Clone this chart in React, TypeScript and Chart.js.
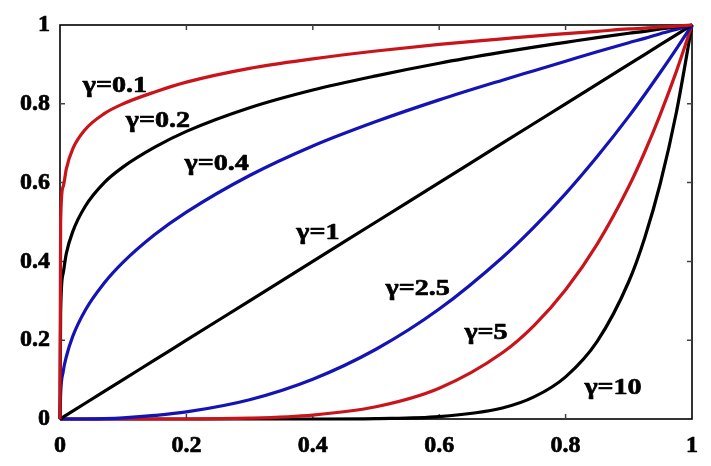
import { useEffect, useRef } from "react";
import { Chart, registerables } from "chart.js";

Chart.register(...registerables);

const xValues = [0, 0.001, 0.005, 0.01, 0.02, 0.04, 0.07, 0.1, 0.15, 0.2, 0.3, 0.4, 0.5, 0.6, 0.7, 0.75, 0.8, 0.85, 0.9, 0.925, 0.95, 0.975, 1];

// Curve values
const gamma01 = [0, 0.5, 0.59, 0.635, 0.685, 0.735, 0.775, 0.8, 0.83, 0.855, 0.89, 0.914, 0.934, 0.951, 0.965, 0.972, 0.978, 0.984, 0.99, 0.992, 0.995, 0.997, 1];
const gamma02 = [0, 0.27, 0.37, 0.42, 0.475, 0.54, 0.6, 0.64, 0.69, 0.73, 0.79, 0.835, 0.871, 0.903, 0.931, 0.944, 0.956, 0.968, 0.979, 0.984, 0.99, 0.995, 1];
const gamma04 = [0, 0.063, 0.12, 0.158, 0.209, 0.276, 0.345, 0.398, 0.468, 0.525, 0.618, 0.693, 0.755, 0.81, 0.86, 0.884, 0.908, 0.932, 0.955, 0.966, 0.978, 0.989, 1];
const gamma1 = [0, 0.001, 0.005, 0.01, 0.02, 0.04, 0.07, 0.1, 0.15, 0.2, 0.3, 0.4, 0.5, 0.6, 0.7, 0.75, 0.8, 0.85, 0.9, 0.925, 0.95, 0.975, 1];
const gamma25 = [0, 0, 0, 0, 0, 0, 0.001, 0.003, 0.009, 0.018, 0.049, 0.101, 0.177, 0.279, 0.41, 0.487, 0.572, 0.666, 0.768, 0.823, 0.88, 0.939, 1];
const gamma5 = [0, 0, 0, 0, 0, 0, 0, 0, 0, 0, 0.002, 0.01, 0.031, 0.078, 0.168, 0.237, 0.328, 0.444, 0.59, 0.677, 0.774, 0.881, 1];
const gamma10 = [0, 0, 0, 0, 0, 0, 0, 0, 0, 0, 0, 0, 0.001, 0.006, 0.028, 0.056, 0.107, 0.197, 0.349, 0.459, 0.599, 0.776, 1];

const tickValues = [0, 0.2, 0.4, 0.6, 0.8, 1];
const tickLabels = ["0", "0.2", "0.4", "0.6", "0.8", "1"];

// Curve labels and their anchor points (in data units)
const curveLabels = ["γ=0.1", "γ=0.2", "γ=0.4", "γ=1", "γ=2.5", "γ=5", "γ=10"];
const curveLabelX = [0.087, 0.155, 0.248, 0.408, 0.566, 0.674, 0.875];
const curveLabelY = [0.845, 0.756, 0.647, 0.472, 0.33, 0.218, 0.079];

const RED = "#c8141a";
const BLUE = "#1414b4";
const BLACK = "#000000";
const FONT = "Liberation Serif";

function toPoints(ys: number[]) {
  return xValues.map((x, i) => ({ x, y: ys[i] }));
}

const framePlugin = {
  id: "frameAndLabels",
  beforeDatasetsDraw(chart: any) {
    const { ctx, chartArea: a, scales } = chart;
    ctx.save();
    ctx.strokeStyle = "#000";
    ctx.lineWidth = 1.6;
    ctx.strokeRect(a.left, a.top, a.right - a.left, a.bottom - a.top);
    ctx.lineWidth = 1.5;
    ctx.strokeStyle = "#444";
    tickValues.forEach((v) => {
      if (v === 0 || v === 1) return;
      const px = scales.x.getPixelForValue(v);
      const py = scales.y.getPixelForValue(v);
      ctx.beginPath();
      ctx.moveTo(px, a.bottom);
      ctx.lineTo(px, a.bottom - 5);
      ctx.moveTo(px, a.top);
      ctx.lineTo(px, a.top + 5);
      ctx.moveTo(a.left, py);
      ctx.lineTo(a.left + 5, py);
      ctx.moveTo(a.right, py);
      ctx.lineTo(a.right - 5, py);
      ctx.stroke();
    });
    ctx.restore();
  },
  afterDatasetsDraw(chart: any) {
    const { ctx, scales } = chart;
    ctx.save();
    ctx.fillStyle = "#000";
    ctx.strokeStyle = "#000";
    ctx.lineWidth = 0.7;
    ctx.lineJoin = "round";
    ctx.font = `bold 24px "${FONT}"`;
    ctx.textAlign = "center";
    ctx.textBaseline = "middle";
    curveLabels.forEach((t, i) => {
      const px = scales.x.getPixelForValue(curveLabelX[i]);
      const py = scales.y.getPixelForValue(curveLabelY[i]);
      ctx.save();
      ctx.translate(px, py);
      ctx.scale(1.17, 1);
      ctx.fillText(t, 0, 0);
      ctx.strokeText(t, 0, 0);
      ctx.restore();
    });
    ctx.restore();
  },
};

export default function App() {
  const ref = useRef<HTMLCanvasElement | null>(null);

  useEffect(() => {
    document.body.style.margin = "0";
    const canvas = ref.current;
    if (!canvas) return;
    let chart: Chart | null = null;
    let cancelled = false;
    const mk = (data: number[], color: string) => ({
      data: toPoints(data),
      borderColor: color,
      backgroundColor: color,
      borderWidth: 3.2,
      pointRadius: 0,
      fill: false,
      cubicInterpolationMode: "monotone" as const,
      clip: false as any,
    });
    const tickFont = { family: FONT, size: 24, weight: "bold" as const };
    const build = () => {
      if (cancelled) return;
      chart = new Chart(canvas, {
        type: "line",
        data: {
          datasets: [
            mk(gamma01, RED),
            mk(gamma02, BLACK),
            mk(gamma04, BLUE),
            mk(gamma1, BLACK),
            mk(gamma25, BLUE),
            mk(gamma5, RED),
            mk(gamma10, BLACK),
          ],
        },
        options: {
          responsive: false,
          animation: false,
          layout: { padding: { left: 0, right: 19, top: 25, bottom: 0 } },
          plugins: { legend: { display: false }, tooltip: { enabled: false } },
          scales: {
            x: {
              type: "linear",
              min: 0,
              max: 1,
              grid: { display: false, drawTicks: false },
              border: { display: false },
              afterBuildTicks: (s: any) => {
                s.ticks = tickValues.map((v) => ({ value: v }));
              },
              afterFit: (s: any) => {
                s.height = 47;
              },
              ticks: {
                padding: 12,
                color: "#000",
                textStrokeColor: "#000",
                textStrokeWidth: 0.7,
                font: tickFont,
                callback: (v: any) => tickLabels[tickValues.indexOf(Number(v))] ?? String(v),
                maxRotation: 0,
              },
            },
            y: {
              type: "linear",
              min: 0,
              max: 1,
              grid: { display: false, drawTicks: false },
              border: { display: false },
              afterBuildTicks: (s: any) => {
                s.ticks = tickValues.map((v) => ({ value: v }));
              },
              afterFit: (s: any) => {
                s.width = 60;
              },
              ticks: {
                padding: 10,
                color: "#000",
                textStrokeColor: "#000",
                textStrokeWidth: 0.7,
                font: tickFont,
                callback: (v: any) => tickLabels[tickValues.indexOf(Number(v))] ?? String(v),
              },
            },
          },
        },
        plugins: [framePlugin],
      });
    };
    const fonts: any = (document as any).fonts;
    if (fonts && fonts.load) {
      fonts.load(`bold 24px "${FONT}"`).then(build, build);
    } else {
      build();
    }
    return () => {
      cancelled = true;
      if (chart) chart.destroy();
    };
  }, []);

  return (
    <div style={{ width: 711, height: 466, background: "#fff" }}>
      <canvas ref={ref} width={711} height={466} style={{ display: "block" }} />
    </div>
  );
}
